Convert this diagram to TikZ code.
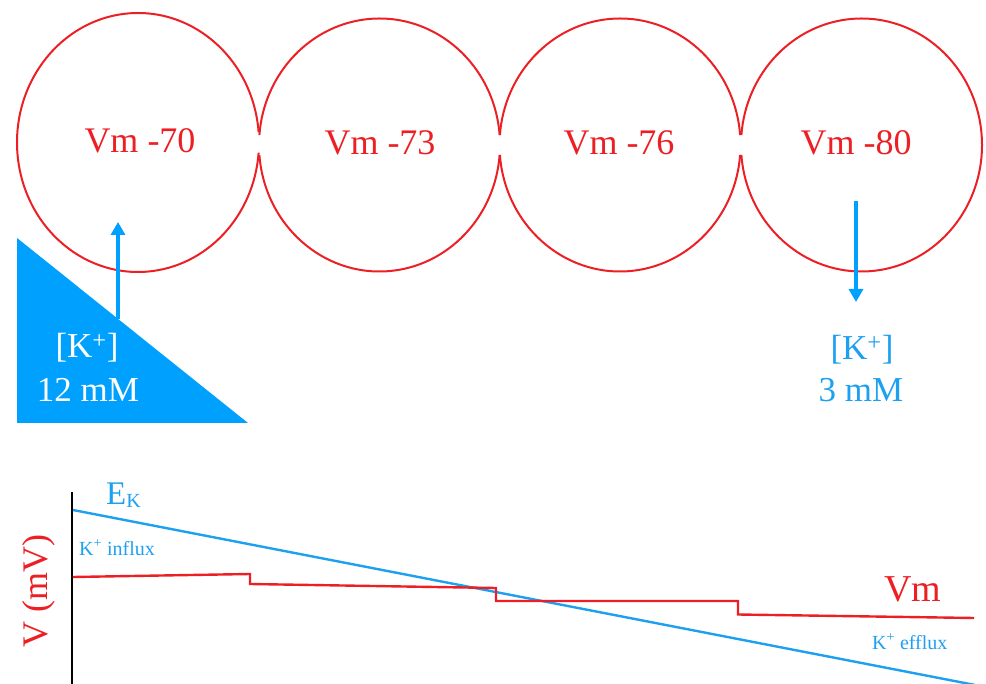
\documentclass[tikz,border=0pt]{standalone}
\usepackage{fontspec}
\setmainfont{Liberation Serif}
\usetikzlibrary{arrows.meta}
\definecolor{cred}{RGB}{236,32,36}
\definecolor{cblue}{RGB}{0,160,255}
\definecolor{lblue}{RGB}{30,160,240}
\begin{document}
\begin{tikzpicture}[x=1pt,y=-1pt,
  cell/.style={draw=cred, line width=2pt},
  celltxt/.style={text=cred, anchor=base, inner sep=0pt, font=\fontsize{36}{43}\selectfont},
  conc/.style={anchor=base, inner sep=0pt, font=\fontsize{35}{42}\selectfont},
  small/.style={text=lblue, anchor=base west, inner sep=0pt, font=\fontsize{20}{24}\selectfont},
  karrow/.style={draw=cblue, line width=3.2pt, -{Triangle[width=14pt,length=13pt]}},
  trace/.style={line width=2.4pt}]
\useasboundingbox (0,0) rectangle (986,684);

% cells
\draw[cell] ([shift={(4.5:121pt and 129.5pt)}]138,142.5) arc[start angle=4.5,end angle=355.5,x radius=121pt,y radius=129.5pt];
\draw[cell] ([shift={(4.5:120.5pt and 126.5pt)}]379.5,145) arc[start angle=4.5,end angle=175.5,x radius=120.5pt,y radius=126.5pt];
\draw[cell] ([shift={(184.5:120.5pt and 126.5pt)}]379.5,145) arc[start angle=184.5,end angle=355.5,x radius=120.5pt,y radius=126.5pt];
\draw[cell] ([shift={(4.5:120.5pt and 126.5pt)}]620,145) arc[start angle=4.5,end angle=175.5,x radius=120.5pt,y radius=126.5pt];
\draw[cell] ([shift={(184.5:120.5pt and 126.5pt)}]620,145) arc[start angle=184.5,end angle=355.5,x radius=120.5pt,y radius=126.5pt];
\draw[cell] ([shift={(-175.5:120.5pt and 126.5pt)}]861.5,145) arc[start angle=-175.5,end angle=175.5,x radius=120.5pt,y radius=126.5pt];

\node[celltxt] (v1) at (140,153) {Vm -70};
\node[celltxt] (v2) at (380,155) {Vm -73};
\node[celltxt] (v3) at (619,155) {Vm -76};
\node[celltxt] (v4) at (856,155) {Vm -80};

% gradient triangle
\fill[cblue] (17,238) -- (17,423) -- (248,423) -- cycle;
\node[conc, text=white] (kin) at (87,358) {[K\textsuperscript{+}]};
\node[conc, text=white] (kinv) at (88,402) {12 mM};
\coordinate (a1s) at (118,319);
\coordinate (a1e) at (118,222);
\draw[karrow] (a1s) -- (a1e);

\coordinate (a2s) at (856,201);
\coordinate (a2e) at (856,302);
\draw[karrow] (a2s) -- (a2e);
\node[conc, text=lblue] (kout) at (862,360) {[K\textsuperscript{+}]};
\node[conc, text=lblue] (koutv) at (861,402) {3 mM};

% graph
\coordinate (axtop) at (72,492);
\coordinate (axbot) at (72,684);
\draw[black, line width=2.5pt] (axtop) -- (axbot);
\node[text=cred, rotate=90, anchor=base, inner sep=0pt, font=\fontsize{36}{43}\selectfont] (ylab) at (47,591) {V (mV)};

\coordinate (ek0) at (73,510);
\coordinate (ek1) at (975,685);
\draw[trace, draw=lblue] (ek0) -- (ek1);
\node[text=lblue, anchor=base west, inner sep=0pt, font=\fontsize{33}{40}\selectfont] (eklab) at (106,505) {E\raisebox{-2pt}{\fontsize{20}{24}\selectfont K}};

\coordinate (vm0) at (73,577);
\coordinate (vm1) at (974,618);
\draw[trace, draw=cred] (vm0) -- (250,574) -- (250,584) -- (496,588) -- (496,601) -- (738,601) -- (738,614.5) -- (vm1);
\node[text=cred, anchor=base west, inner sep=0pt, font=\fontsize{38}{45}\selectfont] (vmlab) at (884,601) {Vm};

\node[small] (influx) at (79,555) {K\textsuperscript{+} influx};
\node[small] (efflux) at (872,649) {K\textsuperscript{+} efflux};
\end{tikzpicture}
\end{document}
